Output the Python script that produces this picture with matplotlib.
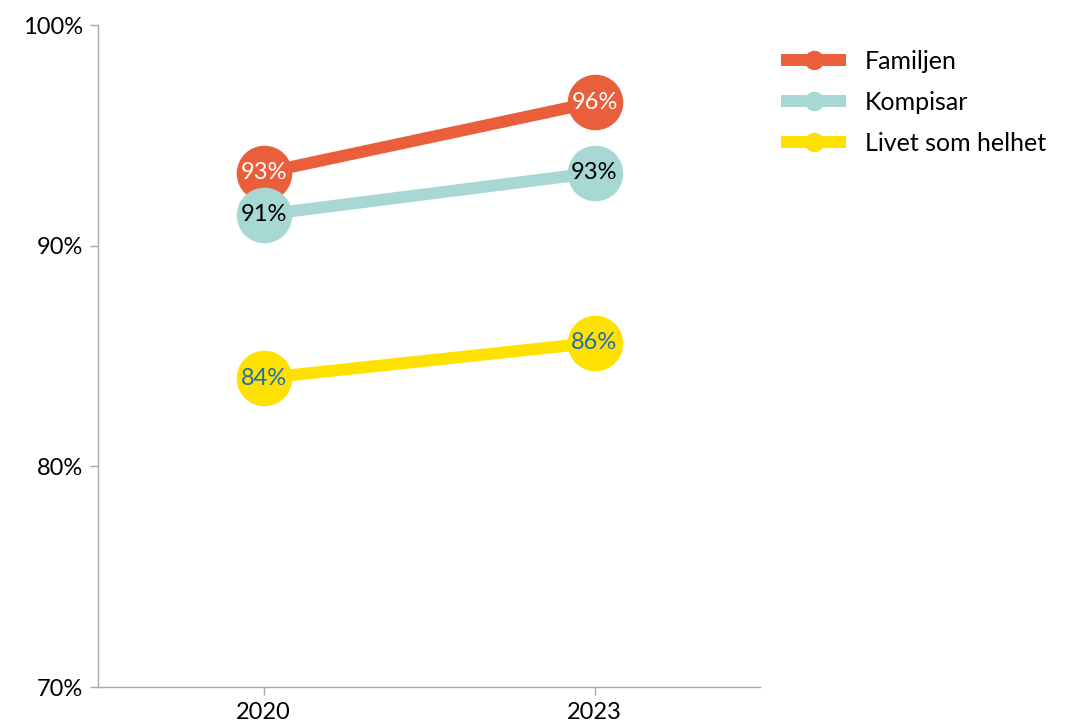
import matplotlib.pyplot as plt
from matplotlib.lines import Line2D

plt.rcParams['font.family'] = ['Lato', 'DejaVu Sans']

years = ["2020", "2023"]
series_names = ["Familjen", "Kompisar", "Livet som helhet"]
familjen = [93.3, 96.5]
kompisar = [91.4, 93.3]
livet = [84.0, 85.6]
value_labels = [["93%", "96%"], ["91%", "93%"], ["84%", "86%"]]

colors = ["#E95F3B", "#A8D8D3", "#FFE100"]
label_colors = ["white", "black", "#1F6DAE"]

fig = plt.figure(figsize=(10.81, 7.22), dpi=100)
ax = fig.add_axes([98 / 1081, 35 / 722, 662 / 1081, 662 / 722])

x = list(range(len(years)))
handles = []
for vals, name, col, lcol, labs in zip([familjen, kompisar, livet], series_names,
                                       colors, label_colors, value_labels):
    ax.plot(x, vals, color=col, lw=8.6, solid_capstyle='butt', zorder=2)
    ax.plot(x, vals, 'o', color=col, ms=39, zorder=3)
    for xi, v, t in zip(x, vals, labs):
        ax.text(xi, v, t, ha='center', va='center', color=lcol, fontsize=17, zorder=4)
    handles.append(Line2D([0], [0], color=col, lw=8.6, marker='o', ms=13,
                          solid_capstyle='butt', label=name))

ax.set_xlim(-0.5, 1.5)
ax.set_ylim(70, 100)
ax.set_xticks(x)
ax.set_xticklabels(years)
ax.set_yticks([70, 80, 90, 100])
ax.set_yticklabels(["70%", "80%", "90%", "100%"])
ax.tick_params(labelsize=17, color="#aaaaaa", length=6, width=1, pad=5)
for s in ["top", "right"]:
    ax.spines[s].set_visible(False)
for s in ["left", "bottom"]:
    ax.spines[s].set_color("#aaaaaa")
    ax.spines[s].set_linewidth(1)

fig.legend(handles=handles, loc='upper left', bbox_to_anchor=(771 / 1081, 1 - 40 / 722),
           frameon=False, fontsize=18, handlelength=2.6, handletextpad=0.75,
           labelspacing=0.72, borderaxespad=0)

fig.savefig("out.png", dpi=100)
